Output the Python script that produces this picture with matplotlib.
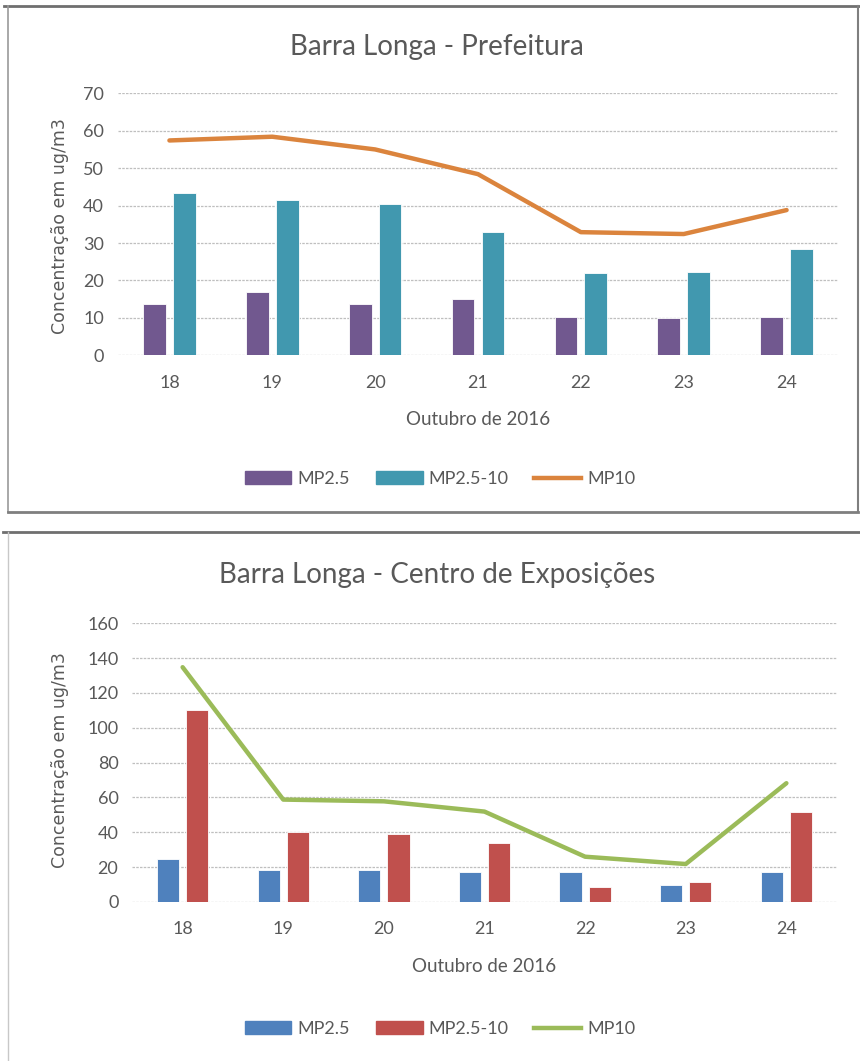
import matplotlib.pyplot as plt
from matplotlib.lines import Line2D
from matplotlib.patches import Patch
import numpy as np

# dias de outubro de 2016
dias = ['18', '19', '20', '21', '22', '23', '24']

# Barra Longa - Prefeitura
pref_mp25 = [13.6, 16.9, 13.6, 15.0, 10.3, 9.9, 10.3]
pref_mp2510 = [43.3, 41.4, 40.4, 33.0, 21.9, 22.3, 28.4]
pref_mp10 = [57.4, 58.4, 55.0, 48.4, 32.9, 32.4, 38.8]

# Barra Longa - Centro de Exposições
centro_mp25 = [24.5, 18.2, 18.2, 17.1, 17.1, 9.6, 17.1]
centro_mp2510 = [110.1, 40.4, 39.2, 33.9, 8.6, 11.7, 51.9]
centro_mp10 = [134.8, 58.8, 57.8, 51.9, 26.0, 21.8, 68.2]

W, H = 860, 1061
TXT = '#595959'
FONT = ['Lato', 'DejaVu Sans']


def px_box(x0, y0, x1, y1):
    # caixa em pixels (origem no topo) -> fração da figura
    return [x0/W, 1 - y1/H, (x1-x0)/W, (y1-y0)/H]


def grafico(fig, box, titulo, title_y, mp25, mp2510, mp10, cores, ymax, ystep,
            ylab_y, xlab_y, leg_y):
    ax = fig.add_axes(px_box(*box))
    x = np.arange(len(dias))
    larg = 0.22
    ax.bar(x - 0.145, mp25, larg, color=cores[0], edgecolor='white',
           linewidth=0.6, zorder=2)
    ax.bar(x + 0.145, mp2510, larg, color=cores[1], edgecolor='white',
           linewidth=0.6, zorder=2)
    ax.plot(x, mp10, color=cores[2], linewidth=3.2, zorder=3,
            solid_capstyle='round')
    ax.set_xlim(-0.5, len(dias) - 0.5)
    ax.set_ylim(0, ymax)
    ax.set_yticks(np.arange(0, ymax + 1, ystep))
    ax.set_xticks(x)
    ax.set_xticklabels(dias)
    ax.grid(axis='y', color='#BFBFBF', linestyle=(0, (2, 1)), linewidth=0.9,
            zorder=0)
    for s in ax.spines.values():
        s.set_visible(False)
    ax.tick_params(length=0, colors=TXT, labelsize=13, pad=14)
    ax.tick_params(axis='y', pad=10)
    for lb in ax.get_xticklabels() + ax.get_yticklabels():
        lb.set_family(FONT)

    fig.text(437/W, 1 - title_y/H, titulo, ha='center', va='center',
             fontsize=20, color=TXT, family=FONT)
    xc = (box[0] + box[2]) / 2
    fig.text(xc/W, 1 - xlab_y/H, 'Outubro de 2016', ha='center', va='center',
             fontsize=13.5, color=TXT, family=FONT)
    fig.text(60/W, 1 - ylab_y/H, 'Concentração em ug/m3', ha='center',
             va='center', rotation=90, fontsize=12.5, color=TXT,
             family='DejaVu Sans')

    handles = [Patch(color=cores[0]), Patch(color=cores[1]),
               Line2D([], [], color=cores[2], linewidth=3.2)]
    leg = fig.legend(handles, ['MP2.5', 'MP2.5-10', 'MP10'], ncol=3,
                     loc='center', bbox_to_anchor=(440/W, 1 - leg_y/H),
                     frameon=False, fontsize=13, handlelength=2.6,
                     handleheight=0.75, handletextpad=0.35, columnspacing=1.4,
                     prop={'family': FONT, 'size': 13})
    for t in leg.get_texts():
        t.set_color(TXT)
    return ax


fig = plt.figure(figsize=(W/100, H/100), dpi=100)

grafico(fig, (118, 93.3, 838, 355.3), 'Barra Longa - Prefeitura', 47,
        pref_mp25, pref_mp2510, pref_mp10,
        ['#71588F', '#4198AF', '#DB843D'], 70, 10, 226, 419, 479)

grafico(fig, (132.3, 623.3, 836.7, 902), 'Barra Longa - Centro de Exposições',
        575, centro_mp25, centro_mp2510, centro_mp10,
        ['#4F81BD', '#C0504D', '#9BBB59'], 160, 20, 760, 967, 1029)


# molduras dos dois gráficos
def linha(x0, y0, x1, y1, cor, lw):
    fig.add_artist(Line2D([x0/W, x1/W], [1 - y0/H, 1 - y1/H], color=cor,
                          linewidth=lw, transform=fig.transFigure))


linha(4, 6, 860, 6, '#6f6f6f', 2)
linha(8, 6, 8, 512, '#9a9a9a', 1.2)
linha(8, 512, 858, 512, '#7f7f7f', 2)
linha(858, 6, 858, 512, '#7f7f7f', 1.5)
linha(3, 532, 860, 532, '#6f6f6f', 2)
linha(8, 532, 8, 1061, '#c8c8c8', 1)

fig.savefig('out.png', dpi=100)
